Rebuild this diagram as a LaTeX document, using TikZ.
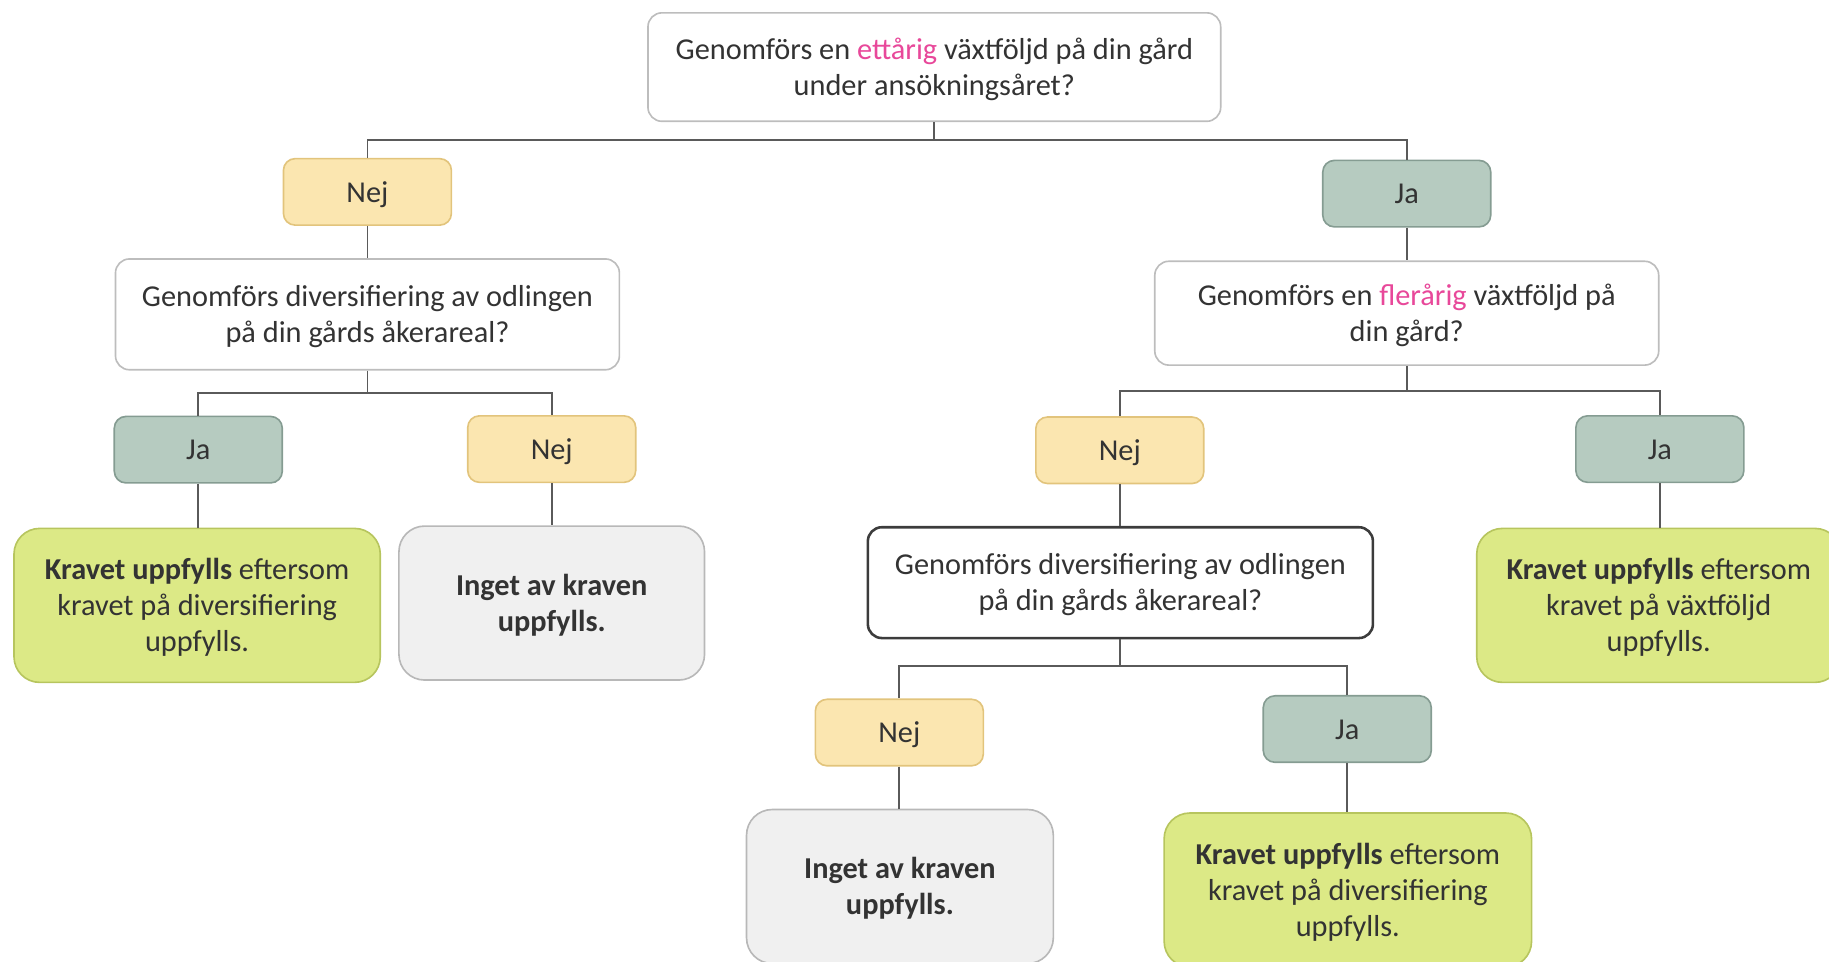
\documentclass[tikz,border=0pt]{standalone}
\usepackage{fontspec}
\setmainfont{Carlito}
\definecolor{txt}{HTML}{333333}
\definecolor{pink}{HTML}{E8489A}
\definecolor{qborder}{HTML}{BDBDBD}
\definecolor{qdark}{HTML}{3C3C3C}
\definecolor{nejf}{HTML}{FBE6B0}
\definecolor{nejb}{HTML}{E2C47C}
\definecolor{jaf}{HTML}{B6CBC0}
\definecolor{jab}{HTML}{859C92}
\definecolor{resgf}{HTML}{DCE986}
\definecolor{resgb}{HTML}{B7C55E}
\definecolor{resnf}{HTML}{F0F0F0}
\definecolor{resnb}{HTML}{B8B8B8}
\definecolor{conn}{HTML}{5A5A5A}
\newcommand{\lowtxt}[1]{\raisebox{-1.3pt}[\height][\depth]{\begin{tabular}{@{}c@{}}#1\end{tabular}}}
\begin{document}
\begin{tikzpicture}[x=0.5pt,y=-0.5pt,
  base/.style={inner sep=0pt, text=txt, font=\fontsize{13}{15.5}\selectfont},
  qbox/.style={base, draw=qborder, fill=white, line width=0.7pt, rounded corners=6pt},
  qboxdark/.style={base, draw=qdark, fill=white, line width=1.1pt, rounded corners=6pt},
  nejbox/.style={base, draw=nejb, fill=nejf, line width=0.7pt, rounded corners=5pt, minimum width=72pt, minimum height=28.5pt},
  jabox/.style={base, draw=jab, fill=jaf, line width=0.7pt, rounded corners=5pt, minimum width=72pt, minimum height=28.5pt},
  resg/.style={base, draw=resgb, fill=resgf, line width=0.7pt, rounded corners=11pt, minimum height=66pt},
  resn/.style={base, draw=resnb, fill=resnf, line width=0.7pt, rounded corners=11pt, minimum height=66pt},
  conline/.style={draw=conn, line width=0.8pt}
]
\clip (0,0) rectangle (1568,824);
\useasboundingbox (0,0) rectangle (1568,824);

% questions
\node[qbox, minimum width=245.5pt, minimum height=46.5pt] (q1) at (801,57.5)
  {\lowtxt{Genomförs en \textcolor{pink}{ettårig} växtföljd på din gård\\under ansökningsåret?}};
\node[qbox, minimum width=216pt, minimum height=47.5pt] (q2l) at (315,269.5)
  {\lowtxt{Genomförs diversifiering av odlingen\\på din gårds åkerareal?}};
\node[qbox, minimum width=216pt, minimum height=44.5pt] (q2r) at (1206,268.5)
  {\lowtxt{Genomförs en \textcolor{pink}{flerårig} växtföljd på\\din gård?}};
\node[qboxdark, minimum width=216.5pt, minimum height=47.5pt] (q3) at (960.5,499.5)
  {\lowtxt{Genomförs diversifiering av odlingen\\på din gårds åkerareal?}};

% yes/no
\node[nejbox] (nej1) at (315,164.5) {\lowtxt{Nej}};
\node[jabox] (ja1) at (1206,166) {\lowtxt{Ja}};
\node[jabox] (ja2) at (170,385.5) {\lowtxt{Ja}};
\node[nejbox] (nej2) at (473,385) {\lowtxt{Nej}};
\node[nejbox] (nej3) at (960,386) {\lowtxt{Nej}};
\node[jabox] (ja3) at (1423,385) {\lowtxt{Ja}};
\node[nejbox] (nej4) at (771,628) {\lowtxt{Nej}};
\node[jabox] (ja4) at (1155,625) {\lowtxt{Ja}};

% results
\node[resg, minimum width=157pt] (r1) at (169,519)
  {\lowtxt{\textbf{Kravet uppfylls} eftersom\\kravet på diversifiering\\uppfylls.}};
\node[resn, minimum width=131pt] (r2) at (473,517)
  {\lowtxt{\textbf{Inget av kraven}\\\textbf{uppfylls.}}};
\node[resg, minimum width=156pt] (r3) at (1422,519)
  {\lowtxt{\textbf{Kravet uppfylls} eftersom\\kravet på växtföljd\\uppfylls.}};
\node[resn, minimum width=131.5pt] (r4) at (771.5,760)
  {\lowtxt{\textbf{Inget av kraven}\\\textbf{uppfylls.}}};
\node[resg, minimum width=157.5pt] (r5) at (1155.5,763)
  {\lowtxt{\textbf{Kravet uppfylls} eftersom\\kravet på diversifiering\\uppfylls.}};

% connectors
\coordinate (b1) at (801,120);
\coordinate (b2) at (315,337);
\coordinate (b3) at (1206,335);
\coordinate (b4) at (960,571);
\draw[conline] (q1.south) -- (b1) -| (nej1.north);
\draw[conline] (b1) -| (ja1.north);
\draw[conline] (nej1.south) -- (q2l.north);
\draw[conline] (ja1.south) -- (q2r.north);
\draw[conline] (q2l.south) -- (b2) -| (ja2.north);
\draw[conline] (b2) -| (nej2.north);
\draw[conline] (q2r.south) -- (b3) -| (nej3.north);
\draw[conline] (b3) -| (ja3.north);
\draw[conline] (ja2.south) -- (r1.north -| ja2.south);
\draw[conline] (nej2.south) -- (r2.north -| nej2.south);
\draw[conline] (ja3.south) -- (r3.north -| ja3.south);
\draw[conline] (nej3.south) -- (q3.north -| nej3.south);
\draw[conline] (q3.south -| b4) -- (b4) -| (nej4.north);
\draw[conline] (b4) -| (ja4.north);
\draw[conline] (nej4.south) -- (r4.north -| nej4.south);
\draw[conline] (ja4.south) -- (r5.north -| ja4.south);
\end{tikzpicture}
\end{document}
